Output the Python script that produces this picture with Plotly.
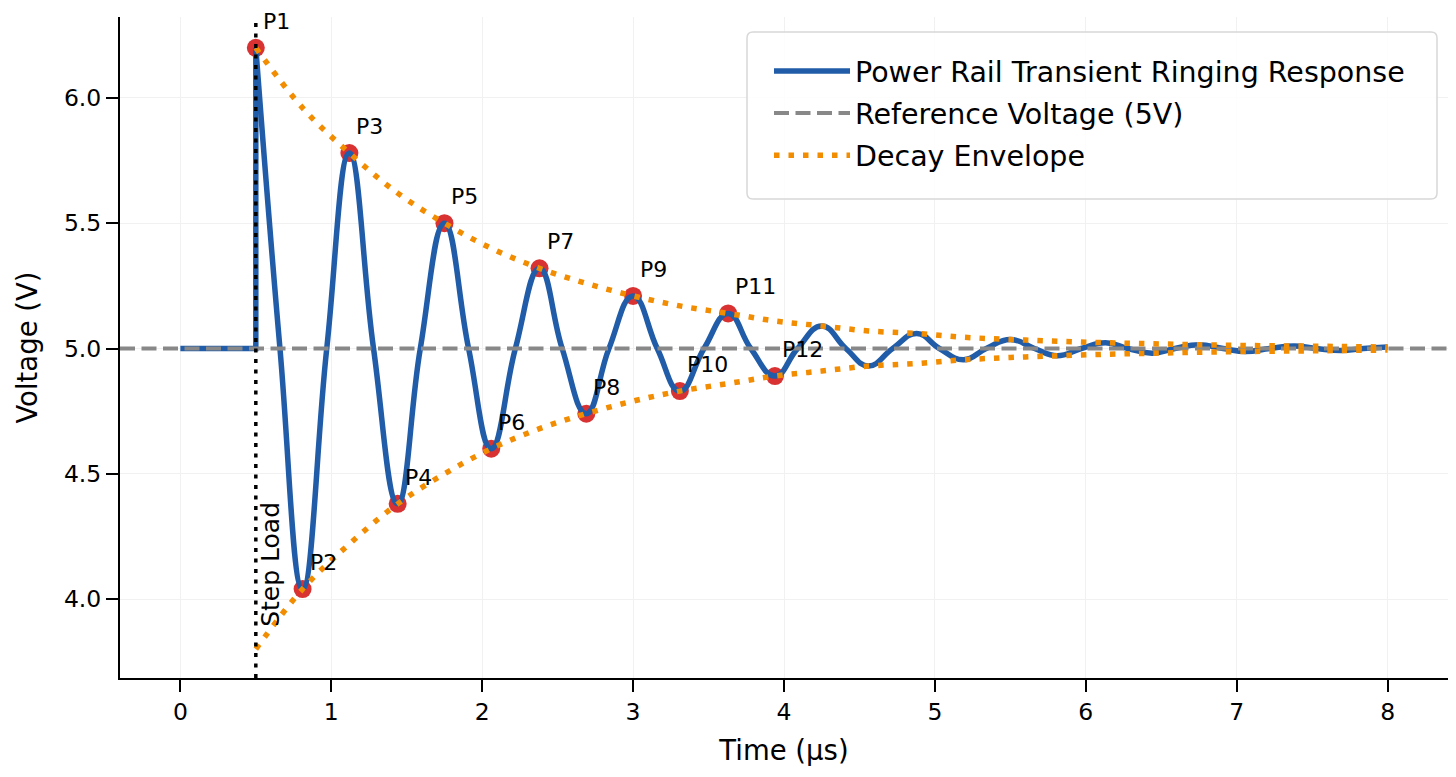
import plotly.graph_objects as go

# ---- data ----
# pre-step segment (flat at 5 V, then the step jump at t = 0.5 us)
pre_t = [0.0, 0.5, 0.5]
pre_v = [5.0, 5.0, 6.20]

# ringing response: alternating extrema and 5 V crossings
ring_t = [0.50, 0.66, 0.81, 0.97, 1.12, 1.28, 1.44, 1.59, 1.75, 1.91,
          2.06, 2.22, 2.38, 2.53, 2.69, 2.84, 3.00, 3.16, 3.31, 3.47,
          3.63, 3.78, 3.94, 4.09, 4.25, 4.41, 4.56, 4.72, 4.88, 5.03,
          5.19, 5.34, 5.50, 5.66, 5.81, 5.97, 6.13, 6.28, 6.44, 6.59,
          6.75, 6.91, 7.06, 7.22, 7.38, 7.53, 7.69, 7.84, 8.00]
ring_v = [6.20, 5.00, 4.04, 5.00, 5.78, 5.00, 4.38, 5.00, 5.50, 5.00,
          4.60, 5.00, 5.32, 5.00, 4.74, 5.00, 5.21, 5.00, 4.83, 5.00,
          5.14, 5.00, 4.89, 5.00, 5.09, 5.00, 4.93, 5.00, 5.06, 5.00,
          4.955, 5.00, 5.036, 5.00, 4.971, 5.00, 5.023, 5.00, 4.981, 5.00,
          5.015, 5.00, 4.988, 5.00, 5.010, 5.00, 4.992, 5.00, 5.006]

# decay envelope
env_t = [0.50, 0.81, 1.12, 1.44, 1.75, 2.06, 2.38, 2.69, 3.00, 3.31,
         3.63, 3.94, 4.25, 4.56, 4.88, 5.19, 5.50, 5.81, 6.13, 6.44,
         6.75, 7.06, 7.38, 7.69, 8.00]
env_upper = [6.20, 5.96, 5.78, 5.62, 5.50, 5.40, 5.32, 5.26, 5.21, 5.17,
             5.14, 5.11, 5.09, 5.07, 5.06, 5.045, 5.036, 5.029, 5.023, 5.019,
             5.015, 5.012, 5.010, 5.008, 5.006]
env_lower = [3.80, 4.04, 4.22, 4.38, 4.50, 4.60, 4.68, 4.74, 4.79, 4.83,
             4.86, 4.89, 4.91, 4.93, 4.94, 4.955, 4.964, 4.971, 4.977, 4.981,
             4.985, 4.988, 4.990, 4.992, 4.994]

# labelled peaks
peak_labels = ["P1", "P2", "P3", "P4", "P5", "P6", "P7", "P8", "P9", "P10", "P11", "P12"]
peak_t = [0.50, 0.81, 1.12, 1.44, 1.75, 2.06, 2.38, 2.69, 3.00, 3.31, 3.63, 3.94]
peak_v = [6.20, 4.04, 5.78, 4.38, 5.50, 4.60, 5.32, 4.74, 5.21, 4.83, 5.14, 4.89]

ref_voltage = 5.0
step_time = 0.5
x_range = [-0.4, 8.4]
y_range = [3.685, 6.323]
x_ticks = [0, 1, 2, 3, 4, 5, 6, 7, 8]
y_ticks = [4.0, 4.5, 5.0, 5.5, 6.0]

FONT = "DejaVu Sans"
BLUE = "#205ca8"
RED = "#d62728"
ORANGE = "#f28c00"
GRAY = "#888888"

W, H = 1456, 777
ML, MR, MT, MB = 120, 8, 17, 99
PW, PH = W - ML - MR, H - MT - MB


def px_to_paper_x(px):
    return (px - ML) / PW


def px_to_paper_y(py):
    return 1 - (py - MT) / PH


fig = go.Figure()

# red peak markers (underneath)
fig.add_trace(go.Scatter(x=peak_t, y=peak_v, mode="markers",
                         marker=dict(color=RED, size=18, opacity=0.95),
                         showlegend=False, hoverinfo="skip"))

# response
fig.add_trace(go.Scatter(x=pre_t, y=pre_v, mode="lines",
                         line=dict(color=BLUE, width=5.5),
                         legendgroup="resp", showlegend=False))
fig.add_trace(go.Scatter(x=ring_t, y=ring_v, mode="lines",
                         line=dict(color=BLUE, width=5.5, shape="spline", smoothing=1.3),
                         name="Power Rail Transient Ringing Response",
                         legendgroup="resp"))

# reference voltage
fig.add_trace(go.Scatter(x=x_range, y=[ref_voltage, ref_voltage], mode="lines",
                         line=dict(color=GRAY, width=4, dash="15px,6.5px"),
                         name="Reference Voltage (5V)", legendgroup="ref"))

# envelope
fig.add_trace(go.Scatter(x=env_t, y=env_upper, mode="lines",
                         line=dict(color=ORANGE, width=5.5, dash="5.5px,9px",
                                   shape="spline", smoothing=1.0),
                         name="Decay Envelope", legendgroup="env"))
fig.add_trace(go.Scatter(x=env_t, y=env_lower, mode="lines",
                         line=dict(color=ORANGE, width=5.5, dash="5.5px,9px",
                                   shape="spline", smoothing=1.0),
                         legendgroup="env", showlegend=False))

# step load vertical line
fig.add_shape(type="line", xref="x", yref="y domain", x0=step_time, x1=step_time,
              y0=0, y1=1, line=dict(color="black", width=3.5, dash="4px,6.5px"),
              layer="above")
fig.add_annotation(x=step_time, y=4.14, xref="x", yref="y", text="Step Load",
                   textangle=-90, showarrow=False, xshift=15,
                   font=dict(family=FONT, size=25, color="black"))

for lab, t, v in zip(peak_labels, peak_t, peak_v):
    fig.add_annotation(x=t, y=v, text=lab, showarrow=False,
                       xanchor="left", yanchor="bottom", xshift=5, yshift=12,
                       font=dict(family=FONT, size=22, color="black"))

# legend frame (rounded rectangle) drawn as a shape
bx0, bx1 = px_to_paper_x(747), px_to_paper_x(1437)
by0, by1 = px_to_paper_y(199), px_to_paper_y(32)
rx, ry = 6 / PW, 6 / PH
path = (f"M{bx0 + rx},{by0} L{bx1 - rx},{by0} Q{bx1},{by0} {bx1},{by0 + ry} "
        f"L{bx1},{by1 - ry} Q{bx1},{by1} {bx1 - rx},{by1} "
        f"L{bx0 + rx},{by1} Q{bx0},{by1} {bx0},{by1 - ry} "
        f"L{bx0},{by0 + ry} Q{bx0},{by0} {bx0 + rx},{by0} Z")
fig.add_shape(type="path", xref="paper", yref="paper", path=path,
              fillcolor="rgba(255,255,255,0.85)", line=dict(color="#d8d8d8", width=1.5),
              layer="above")

axis_common = dict(showline=True, linecolor="black", linewidth=2,
                   ticks="outside", ticklen=12, tickwidth=2, tickcolor="black",
                   tickfont=dict(family=FONT, size=23.5, color="black"),
                   showgrid=True, gridcolor="#f1f1f1", gridwidth=1,
                   zeroline=False, mirror=False)

fig.update_layout(
    width=W, height=H,
    margin=dict(l=ML, r=MR, t=MT, b=MB),
    plot_bgcolor="white", paper_bgcolor="white",
    font=dict(family=FONT, color="black"),
    xaxis=dict(range=x_range, tickvals=x_ticks, ticktext=[str(v) for v in x_ticks],
               title=dict(text="Time (µs)", font=dict(family=FONT, size=27.5), standoff=16),
               **axis_common),
    yaxis=dict(range=y_range, tickvals=y_ticks, ticktext=[f"{v:.1f}" for v in y_ticks],
               title=dict(text="Voltage (V)", font=dict(family=FONT, size=27.5), standoff=18),
               **axis_common),
    legend=dict(x=px_to_paper_x(769), y=px_to_paper_y(46), xanchor="left", yanchor="top",
                bgcolor="rgba(0,0,0,0)", borderwidth=0, itemwidth=76,
                font=dict(family=FONT, size=28.5, color="black"),
                traceorder="grouped", tracegroupgap=2),
    showlegend=True,
)

fig.write_html("out.html")
